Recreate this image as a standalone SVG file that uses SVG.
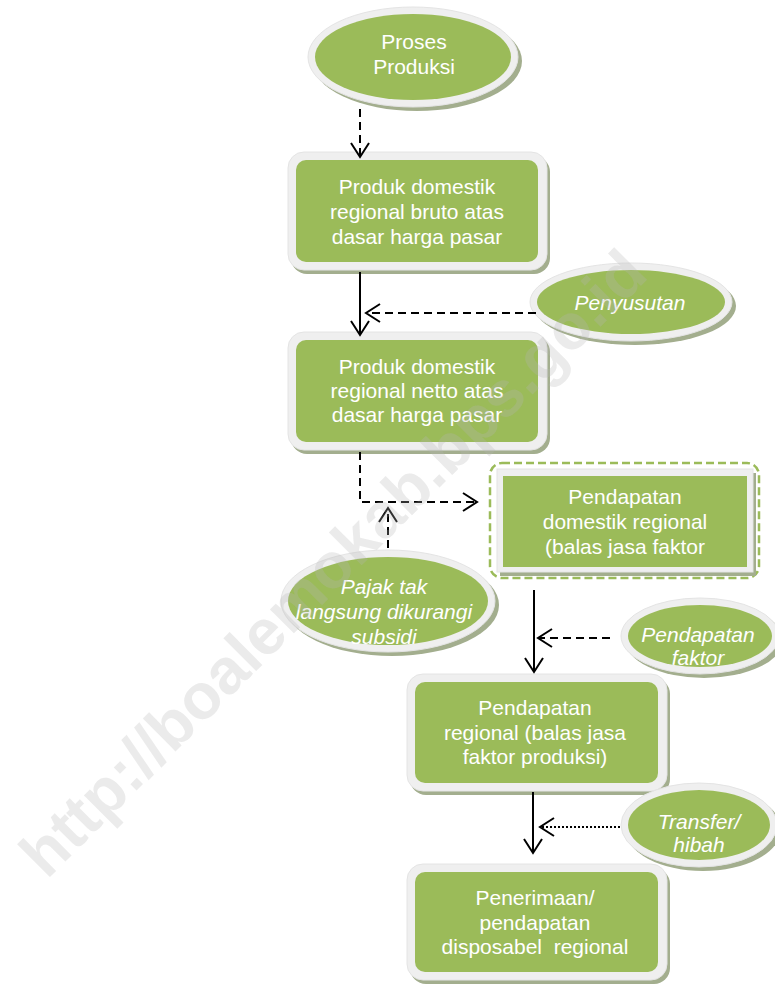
<svg xmlns="http://www.w3.org/2000/svg" width="775" height="984" viewBox="0 0 775 984">
<defs>
<style>
.rim{fill:#efefef;stroke:#e4e4e4;stroke-width:1}
.sh{fill:#a3ae8e}
.g{fill:#9bbb59}
.t{font-family:"Liberation Sans",Arial,sans-serif;font-size:21px;fill:#ffffff;text-anchor:middle}
.i{font-style:italic}
.c{fill:none;stroke:#000;stroke-width:2}
.d{stroke-dasharray:8 5}
.dot{stroke-dasharray:2 2}
.wm{font-family:"Liberation Sans",Arial,sans-serif;font-weight:bold;font-size:64px;fill:#b4b4b4;fill-opacity:0.27;text-anchor:middle}
</style>
<marker id="ah" viewBox="-16 -11 18 22" refX="0" refY="0" markerWidth="18" markerHeight="22" markerUnits="userSpaceOnUse" orient="auto">
<path d="M-14,-9 L0,0 L-14,9" fill="none" stroke="#000" stroke-width="2"/>
</marker>
</defs>
<rect width="775" height="984" fill="#ffffff"/>

<g id="proses-produksi">
<ellipse class="sh" cx="417" cy="61" rx="105" ry="50"/>
<ellipse class="rim" cx="413" cy="57" rx="105" ry="50"/>
<ellipse class="g" cx="413" cy="57" rx="98" ry="43"/>
<text class="t" x="414" y="49">Proses</text>
<text class="t" x="414" y="74">Produksi</text>
</g>

<g id="pdrb-bruto">
<rect class="sh" x="291" y="156" width="259" height="118" rx="16"/>
<rect class="rim" x="288" y="152" width="259" height="118" rx="16"/>
<rect class="g" x="296" y="160" width="242" height="102" rx="10"/>
<text class="t" x="417" y="194">Produk domestik</text>
<text class="t" x="417" y="219">regional bruto atas</text>
<text class="t" x="417" y="244">dasar harga pasar</text>
</g>

<g id="penyusutan">
<ellipse class="sh" cx="635" cy="306" rx="101" ry="39"/>
<ellipse class="rim" cx="631" cy="302" rx="101" ry="39"/>
<ellipse class="g" cx="631" cy="302" rx="94" ry="32"/>
<text class="t i" x="630" y="310">Penyusutan</text>
</g>

<g id="pdrb-netto">
<rect class="sh" x="291" y="336" width="259" height="118" rx="16"/>
<rect class="rim" x="288" y="332" width="259" height="118" rx="16"/>
<rect class="g" x="296" y="340" width="242" height="102" rx="10"/>
<text class="t" x="417" y="374">Produk domestik</text>
<text class="t" x="417" y="398">regional netto atas</text>
<text class="t" x="417" y="422">dasar harga pasar</text>
</g>

<g id="pendapatan-domestik">
<rect x="490" y="463" width="269" height="115" rx="12" fill="#ffffff" stroke="#9bbb59" stroke-width="2.5" stroke-dasharray="8 4"/>
<rect class="sh" x="500" y="473" width="256" height="103"/>
<rect class="rim" x="497" y="469" width="256" height="103"/>
<rect class="g" x="503" y="476" width="244" height="91"/>
<text class="t" x="625" y="504">Pendapatan</text>
<text class="t" x="625" y="529">domestik regional</text>
<text class="t" x="625" y="554">(balas jasa faktor</text>
</g>

<g id="pajak-tak-langsung">
<ellipse class="sh" cx="392" cy="605" rx="107" ry="51"/>
<ellipse class="rim" cx="388" cy="601" rx="107" ry="51"/>
<ellipse class="g" cx="388" cy="601" rx="100" ry="44"/>
<text class="t i" x="384" y="594">Pajak tak</text>
<text class="t i" x="384" y="619">langsung dikurangi</text>
<text class="t i" x="384" y="644">subsidi</text>
</g>

<g id="pendapatan-faktor">
<clipPath id="pfclip"><ellipse cx="700" cy="636" rx="72" ry="31"/></clipPath>
<ellipse class="sh" cx="704" cy="640" rx="79" ry="38"/>
<ellipse class="rim" cx="700" cy="636" rx="79" ry="38"/>
<ellipse class="g" cx="700" cy="636" rx="72" ry="31"/>
<g clip-path="url(#pfclip)">
<text class="t i" x="698" y="642">Pendapatan</text>
<text class="t i" x="698" y="665">faktor</text>
</g>
</g>

<g id="pendapatan-regional">
<rect class="sh" x="410" y="678" width="260" height="117" rx="16"/>
<rect class="rim" x="407" y="674" width="260" height="117" rx="16"/>
<rect class="g" x="415" y="682" width="243" height="101" rx="10"/>
<text class="t" x="535" y="715">Pendapatan</text>
<text class="t" x="535" y="740">regional (balas jasa</text>
<text class="t" x="535" y="764">faktor produksi)</text>
</g>

<g id="transfer-hibah">
<ellipse class="sh" cx="703" cy="829" rx="78" ry="42"/>
<ellipse class="rim" cx="699" cy="825" rx="78" ry="42"/>
<ellipse class="g" cx="699" cy="825" rx="71" ry="35"/>
<text class="t i" x="699" y="829">Transfer/</text>
<text class="t i" x="699" y="852">hibah</text>
</g>

<g id="pendapatan-disposabel">
<rect class="sh" x="410" y="868" width="260" height="116" rx="16"/>
<rect class="rim" x="407" y="864" width="260" height="116" rx="16"/>
<rect class="g" x="415" y="872" width="243" height="100" rx="10"/>
<text class="t" x="535" y="905">Penerimaan/</text>
<text class="t" x="535" y="930">pendapatan</text>
<text class="t" x="535" y="954" xml:space="preserve">disposabel  regional</text>
</g>

<g id="connectors">
<path class="c d" d="M360,109 V157" marker-end="url(#ah)"/>
<path class="c" d="M360,272 V335" marker-end="url(#ah)"/>
<path class="c d" d="M536,313 H366" marker-end="url(#ah)"/>
<path class="c d" d="M360,452 V502 H477" marker-end="url(#ah)"/>
<path class="c d" d="M388,548 V508" marker-end="url(#ah)"/>
<path class="c" d="M534,590 V672" marker-end="url(#ah)"/>
<path class="c d" d="M610,638 H538" marker-end="url(#ah)"/>
<path class="c" d="M533,792 V853" marker-end="url(#ah)"/>
<path class="c dot" d="M620,827 H540" marker-end="url(#ah)"/>
</g>

<text class="wm" transform="translate(333,563) rotate(-45)" y="22">http://boalemokab.bps.go.id</text>
</svg>
